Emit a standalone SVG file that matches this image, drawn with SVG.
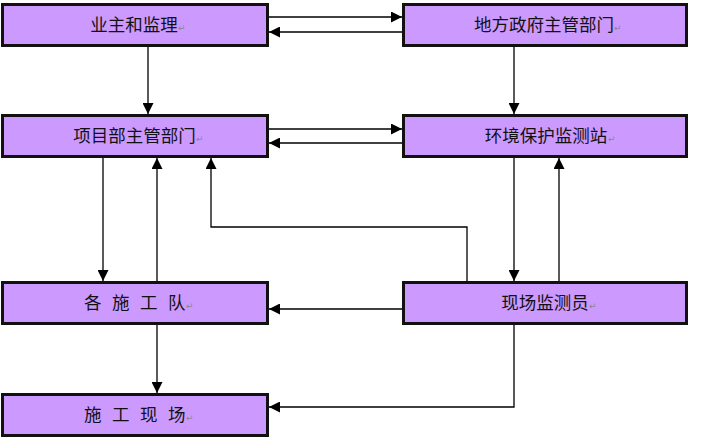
<svg xmlns="http://www.w3.org/2000/svg" width="713" height="439" viewBox="0 0 713 439">
<style>
.box{fill:#CC99FF;stroke:#111;stroke-width:3}
.shadow{fill:none;stroke:#888;stroke-width:1}
.t{font-family:"Noto Sans CJK SC","Liberation Sans",sans-serif;font-size:17.5px;fill:#111;text-anchor:middle}
.ts{font-family:"Noto Sans CJK SC","Liberation Sans",sans-serif;font-size:17.5px;fill:#111}
.rm{font-family:"DejaVu Sans",sans-serif;font-size:9px;fill:#888}
.c{fill:none;stroke:#000;stroke-width:1.3}
</style>
<defs>
<marker id="ah" markerUnits="userSpaceOnUse" markerWidth="11" markerHeight="11" refX="10" refY="5" orient="auto" viewBox="0 0 10 10">
<path d="M0,0 L10,5 L0,10 z" fill="#000"/>
</marker>
</defs>
<g id="connectors">
<path class="c" d="M268,17 H402" marker-end="url(#ah)"/>
<path class="c" d="M403,32 H269" marker-end="url(#ah)"/>
<path class="c" d="M148,46 V114" marker-end="url(#ah)"/>
<path class="c" d="M514,46 V114" marker-end="url(#ah)"/>
<path class="c" d="M268,129 H402" marker-end="url(#ah)"/>
<path class="c" d="M403,143 H269" marker-end="url(#ah)"/>
<path class="c" d="M103,157 V281" marker-end="url(#ah)"/>
<path class="c" d="M157,282 V158" marker-end="url(#ah)"/>
<path class="c" d="M467,282 V227 H211 V158" marker-end="url(#ah)"/>
<path class="c" d="M514,157 V281" marker-end="url(#ah)"/>
<path class="c" d="M559,282 V158" marker-end="url(#ah)"/>
<path class="c" d="M403,309 H269" marker-end="url(#ah)"/>
<path class="c" d="M157,324 V393" marker-end="url(#ah)"/>
<path class="c" d="M514,324 V407 H269" marker-end="url(#ah)"/>
</g>
<g id="n1">
<rect class="box" x="2.5" y="4.5" width="265" height="41"/>
<text class="t" x="134" y="31">业主和监理</text><text class="rm" x="178" y="31">↵</text>
</g>
<g id="n2">
<rect class="box" x="403.5" y="4.5" width="283" height="41"/>
<text class="t" x="544" y="31">地方政府主管部门</text><text class="rm" x="614" y="31">↵</text>
</g>
<g id="n3">
<rect class="box" x="2.5" y="115.5" width="265" height="41"/>
<text class="t" x="134.5" y="142">项目部主管部门</text><text class="rm" x="196" y="142">↵</text>
</g>
<g id="n4">
<rect class="box" x="403.5" y="115.5" width="283" height="41"/>
<text class="t" x="546" y="142">环境保护监测站</text><text class="rm" x="608" y="142">↵</text>
</g>
<g id="n5">
<rect class="box" x="2.5" y="282.5" width="265" height="41"/>
<text class="ts" y="309"><tspan x="84">各</tspan><tspan x="112">施</tspan><tspan x="140">工</tspan><tspan x="168">队</tspan></text><text class="rm" x="186" y="309">↵</text>
</g>
<g id="n6">
<rect class="box" x="403.5" y="282.5" width="283" height="41"/>
<text class="t" x="545" y="309">现场监测员</text><text class="rm" x="589" y="309">↵</text>
</g>
<g id="n7">
<rect class="box" x="2.5" y="394.5" width="265" height="41"/>
<text class="ts" y="421"><tspan x="84">施</tspan><tspan x="112">工</tspan><tspan x="140">现</tspan><tspan x="168">场</tspan></text><text class="rm" x="186" y="421">↵</text>
</g>
</svg>
